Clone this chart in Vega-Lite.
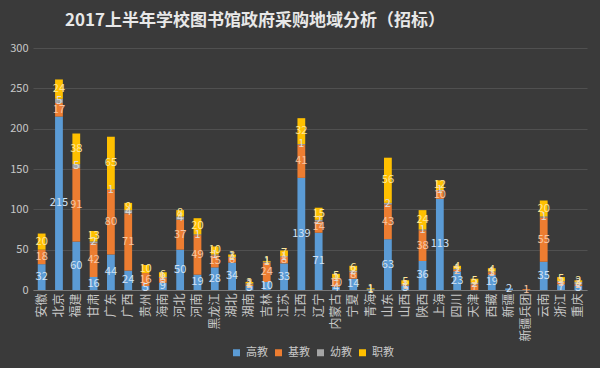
{
  "$schema": "https://vega.github.io/schema/vega-lite/v6.json",
  "autosize": {"type": "none"},
  "padding": {"left": 33, "top": 48, "right": 13, "bottom": 78},
  "width": 554,
  "height": 242,
  "background": "#3a3a3a",
  "title": {
    "text": "2017上半年学校图书馆政府采购地域分析（招标）",
    "anchor": "start",
    "frame": "group",
    "dx": 32,
    "offset": 12,
    "font": "Noto Sans CJK SC",
    "fontSize": 17,
    "fontWeight": "bold",
    "color": "#e8e8e8"
  },
  "config": {
    "view": {"stroke": null},
    "font": "Noto Sans CJK SC"
  },
  "data": {
    "values": [
      {"p":"安徽","s":"高教","k":1,"v":32},{"p":"安徽","s":"基教","k":2,"v":18},{"p":"安徽","s":"幼教","k":3,"v":0},{"p":"安徽","s":"职教","k":4,"v":20},
      {"p":"北京","s":"高教","k":1,"v":215},{"p":"北京","s":"基教","k":2,"v":17},{"p":"北京","s":"幼教","k":3,"v":5},{"p":"北京","s":"职教","k":4,"v":24},
      {"p":"福建","s":"高教","k":1,"v":60},{"p":"福建","s":"基教","k":2,"v":91},{"p":"福建","s":"幼教","k":3,"v":5},{"p":"福建","s":"职教","k":4,"v":38},
      {"p":"甘肃","s":"高教","k":1,"v":16},{"p":"甘肃","s":"基教","k":2,"v":42},{"p":"甘肃","s":"幼教","k":3,"v":2},{"p":"甘肃","s":"职教","k":4,"v":13},
      {"p":"广东","s":"高教","k":1,"v":44},{"p":"广东","s":"基教","k":2,"v":80},{"p":"广东","s":"幼教","k":3,"v":1},{"p":"广东","s":"职教","k":4,"v":65},
      {"p":"广西","s":"高教","k":1,"v":24},{"p":"广西","s":"基教","k":2,"v":71},{"p":"广西","s":"幼教","k":3,"v":4},{"p":"广西","s":"职教","k":4,"v":9},
      {"p":"贵州","s":"高教","k":1,"v":5},{"p":"贵州","s":"基教","k":2,"v":16},{"p":"贵州","s":"幼教","k":3,"v":0},{"p":"贵州","s":"职教","k":4,"v":10},
      {"p":"海南","s":"高教","k":1,"v":9},{"p":"海南","s":"基教","k":2,"v":6},{"p":"海南","s":"幼教","k":3,"v":1},{"p":"海南","s":"职教","k":4,"v":6},
      {"p":"河北","s":"高教","k":1,"v":50},{"p":"河北","s":"基教","k":2,"v":37},{"p":"河北","s":"幼教","k":3,"v":4},{"p":"河北","s":"职教","k":4,"v":8},
      {"p":"河南","s":"高教","k":1,"v":19},{"p":"河南","s":"基教","k":2,"v":49},{"p":"河南","s":"幼教","k":3,"v":1},{"p":"河南","s":"职教","k":4,"v":20},
      {"p":"黑龙江","s":"高教","k":1,"v":28},{"p":"黑龙江","s":"基教","k":2,"v":15},{"p":"黑龙江","s":"幼教","k":3,"v":1},{"p":"黑龙江","s":"职教","k":4,"v":10},
      {"p":"湖北","s":"高教","k":1,"v":34},{"p":"湖北","s":"基教","k":2,"v":6},{"p":"湖北","s":"幼教","k":3,"v":1},{"p":"湖北","s":"职教","k":4,"v":3},
      {"p":"湖南","s":"高教","k":1,"v":5},{"p":"湖南","s":"基教","k":2,"v":2},{"p":"湖南","s":"幼教","k":3,"v":1},{"p":"湖南","s":"职教","k":4,"v":2},
      {"p":"吉林","s":"高教","k":1,"v":10},{"p":"吉林","s":"基教","k":2,"v":24},{"p":"吉林","s":"幼教","k":3,"v":1},{"p":"吉林","s":"职教","k":4,"v":1},
      {"p":"江苏","s":"高教","k":1,"v":33},{"p":"江苏","s":"基教","k":2,"v":8},{"p":"江苏","s":"幼教","k":3,"v":1},{"p":"江苏","s":"职教","k":4,"v":7},
      {"p":"江西","s":"高教","k":1,"v":139},{"p":"江西","s":"基教","k":2,"v":41},{"p":"江西","s":"幼教","k":3,"v":1},{"p":"江西","s":"职教","k":4,"v":32},
      {"p":"辽宁","s":"高教","k":1,"v":71},{"p":"辽宁","s":"基教","k":2,"v":14},{"p":"辽宁","s":"幼教","k":3,"v":2},{"p":"辽宁","s":"职教","k":4,"v":15},
      {"p":"内蒙古","s":"高教","k":1,"v":4},{"p":"内蒙古","s":"基教","k":2,"v":10},{"p":"内蒙古","s":"幼教","k":3,"v":1},{"p":"内蒙古","s":"职教","k":4,"v":5},
      {"p":"宁夏","s":"高教","k":1,"v":14},{"p":"宁夏","s":"基教","k":2,"v":8},{"p":"宁夏","s":"幼教","k":3,"v":2},{"p":"宁夏","s":"职教","k":4,"v":6},
      {"p":"青海","s":"高教","k":1,"v":1},{"p":"青海","s":"基教","k":2,"v":0},{"p":"青海","s":"幼教","k":3,"v":0},{"p":"青海","s":"职教","k":4,"v":1},
      {"p":"山东","s":"高教","k":1,"v":63},{"p":"山东","s":"基教","k":2,"v":43},{"p":"山东","s":"幼教","k":3,"v":2},{"p":"山东","s":"职教","k":4,"v":56},
      {"p":"山西","s":"高教","k":1,"v":5},{"p":"山西","s":"基教","k":2,"v":1},{"p":"山西","s":"幼教","k":3,"v":1},{"p":"山西","s":"职教","k":4,"v":5},
      {"p":"陕西","s":"高教","k":1,"v":36},{"p":"陕西","s":"基教","k":2,"v":38},{"p":"陕西","s":"幼教","k":3,"v":1},{"p":"陕西","s":"职教","k":4,"v":24},
      {"p":"上海","s":"高教","k":1,"v":113},{"p":"上海","s":"基教","k":2,"v":10},{"p":"上海","s":"幼教","k":3,"v":1},{"p":"上海","s":"职教","k":4,"v":12},
      {"p":"四川","s":"高教","k":1,"v":23},{"p":"四川","s":"基教","k":2,"v":2},{"p":"四川","s":"幼教","k":3,"v":1},{"p":"四川","s":"职教","k":4,"v":4},
      {"p":"天津","s":"高教","k":1,"v":0},{"p":"天津","s":"基教","k":2,"v":7},{"p":"天津","s":"幼教","k":3,"v":2},{"p":"天津","s":"职教","k":4,"v":5},
      {"p":"西藏","s":"高教","k":1,"v":19},{"p":"西藏","s":"基教","k":2,"v":3},{"p":"西藏","s":"幼教","k":3,"v":1},{"p":"西藏","s":"职教","k":4,"v":4},
      {"p":"新疆","s":"高教","k":1,"v":2},{"p":"新疆","s":"基教","k":2,"v":0},{"p":"新疆","s":"幼教","k":3,"v":0},{"p":"新疆","s":"职教","k":4,"v":0},
      {"p":"新疆兵团","s":"高教","k":1,"v":0},{"p":"新疆兵团","s":"基教","k":2,"v":1},{"p":"新疆兵团","s":"幼教","k":3,"v":0},{"p":"新疆兵团","s":"职教","k":4,"v":0},
      {"p":"云南","s":"高教","k":1,"v":35},{"p":"云南","s":"基教","k":2,"v":55},{"p":"云南","s":"幼教","k":3,"v":1},{"p":"云南","s":"职教","k":4,"v":20},
      {"p":"浙江","s":"高教","k":1,"v":7},{"p":"浙江","s":"基教","k":2,"v":3},{"p":"浙江","s":"幼教","k":3,"v":1},{"p":"浙江","s":"职教","k":4,"v":5},
      {"p":"重庆","s":"高教","k":1,"v":5},{"p":"重庆","s":"基教","k":2,"v":2},{"p":"重庆","s":"幼教","k":3,"v":3},{"p":"重庆","s":"职教","k":4,"v":2}
    ]
  },
  "encoding": {
    "x": {
      "field": "p", "type": "nominal", "sort": null,
      "scale": {"paddingInner": 0.55, "paddingOuter": 0.275},
      "axis": {
        "title": null, "labelAngle": -90, "labelFontSize": 12, "labelColor": "#c8c8c8",
        "labelPadding": 3, "ticks": false, "domainColor": "#7a7a7a", "domainWidth": 1
      }
    },
    "y": {
      "field": "v", "type": "quantitative", "stack": "zero",
      "scale": {"domain": [0, 300], "nice": false},
      "axis": {
        "title": null, "values": [0, 50, 100, 150, 200, 250, 300],
        "labelFontSize": 11, "labelColor": "#c8c8c8", "labelPadding": 5,
        "ticks": false, "domain": false, "gridColor": "#505050", "gridWidth": 1
      }
    },
    "order": {"field": "k", "type": "quantitative"}
  },
  "layer": [
    {
      "mark": {"type": "bar"},
      "encoding": {
        "color": {
          "field": "s", "type": "nominal",
          "scale": {"domain": ["高教", "基教", "幼教", "职教"], "range": ["#5b9bd5", "#ed7d31", "#a5a5a5", "#ffc000"]},
          "legend": {
            "title": null, "orient": "none", "direction": "horizontal",
            "legendX": 198, "legendY": 299,
            "symbolType": "square", "symbolSize": 49, "symbolStrokeWidth": 0,
            "labelFontSize": 11, "labelColor": "#c8c8c8", "columnPadding": 5, "labelOffset": 4
          }
        }
      }
    },
    {
      "transform": [{"filter": "datum.v > 0"}],
      "mark": {"type": "text", "fontSize": 11},
      "encoding": {
        "y": {"field": "v", "type": "quantitative", "stack": "zero", "bandPosition": 0.5},
        "text": {"field": "v", "type": "quantitative"},
        "color": {
          "field": "s", "type": "nominal",
          "scale": {"domain": ["高教", "基教", "幼教", "职教"], "range": ["#d3e3f5", "#f8c6a2", "#dcdcdc", "#ffe699"]},
          "legend": null
        }
      }
    }
  ],
  "resolve": {"scale": {"color": "independent"}}
}
